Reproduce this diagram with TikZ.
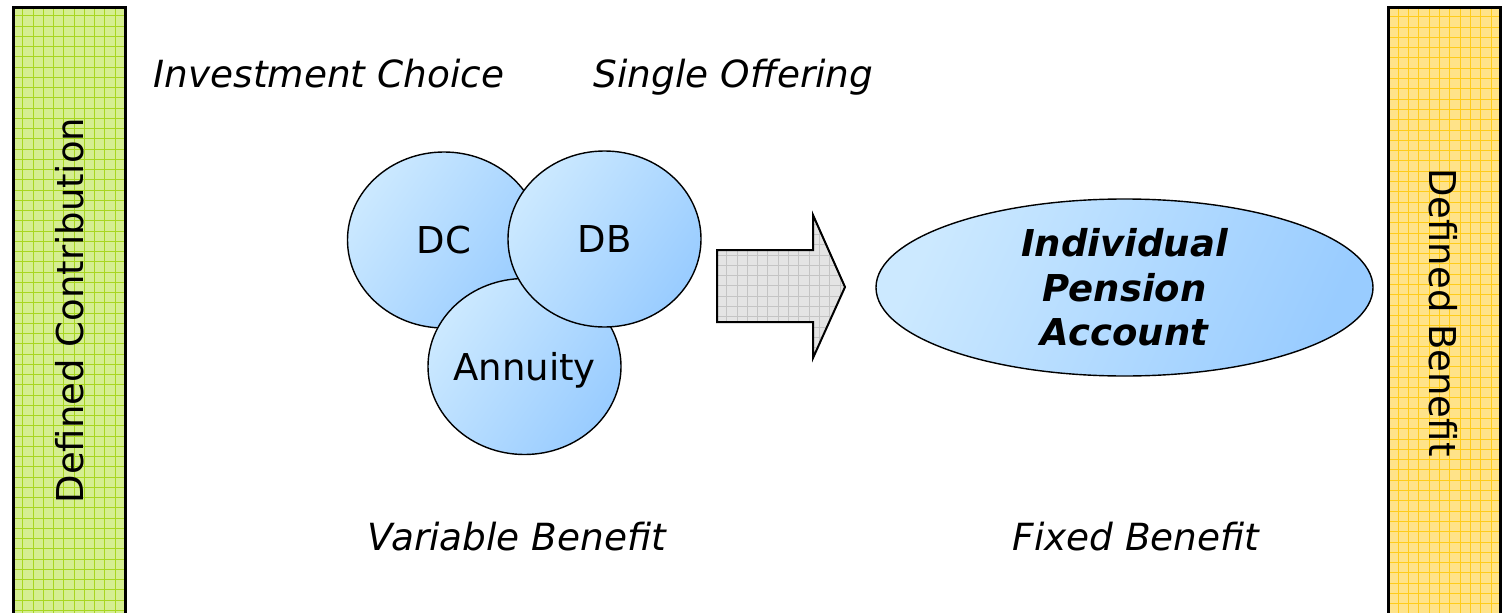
\documentclass[tikz,border=0pt]{standalone}
\usepackage{fontspec}
\setmainfont{DejaVu Sans}
\usetikzlibrary{shapes.geometric}
\definecolor{gfill}{HTML}{D5EE91}
\definecolor{gline}{HTML}{A8D620}
\definecolor{yfill}{HTML}{FFE389}
\definecolor{yline}{HTML}{FFCC1A}
\definecolor{afill}{HTML}{E4E4E4}
\definecolor{aline}{HTML}{C4C4C4}
\definecolor{bl}{HTML}{CCE9FF}
\definecolor{bd}{HTML}{99CCFF}
\begin{document}
\begin{tikzpicture}[x=1pt,y=-1pt,
  bubble/.style={ellipse, draw=black, line width=1.4pt, top color=bl, bottom color=bd, shading angle=55,
    inner sep=0pt, minimum width=193pt, minimum height=176pt, font=\fontsize{37}{44}\selectfont,
    text height=27pt, text depth=0pt},
  lbl/.style={font=\fontsize{37.4}{44}\selectfont\itshape, anchor=base, inner sep=0pt},
  vlbl/.style={font=\fontsize{37}{44}\selectfont, inner sep=0pt},
  gridline/.style={line width=0.9pt}]
\useasboundingbox (0,0) rectangle (1505,613);
% left bar
\fill[gfill] (13,7) rectangle (125,613);
\begin{scope}
\clip (13,7) rectangle (125,613);
\foreach \x in {12.45,22.7,...,126} \draw[gline,gridline] (\x,0) -- (\x,620);
\foreach \y in {5.45,15.7,...,620} \draw[gline,gridline] (0,\y) -- (140,\y);
\end{scope}
\draw[line width=3pt] (13,614) -- (13,7) -- (125,7) -- (125,614);
% right bar
\fill[yfill] (1388,7) rectangle (1500,613);
\begin{scope}
\clip (1388,7) rectangle (1500,613);
\foreach \x in {1388,1398.3,...,1502} \draw[yline,gridline] (\x,0) -- (\x,620);
\foreach \y in {6.4,16.7,...,620} \draw[yline,gridline] (1380,\y) -- (1505,\y);
\end{scope}
\draw[line width=3pt] (1388,614) -- (1388,7) -- (1500,7) -- (1500,614);
% block arrow
\fill[afill] (717,250) -- (813,250) -- (813,215) -- (845,287) -- (813,358) -- (813,322) -- (717,322) -- cycle;
\begin{scope}
\clip (717,250) -- (813,250) -- (813,215) -- (845,287) -- (813,358) -- (813,322) -- (717,322) -- cycle;
\foreach \x in {716.4,726.7,...,850} \draw[aline,gridline] (\x,200) -- (\x,370);
\foreach \y in {255,265.3,...,370} \draw[aline,gridline] (700,\y) -- (860,\y);
\foreach \y in {244.7,234.4,224.1,213.8} \draw[aline,gridline] (700,\y) -- (860,\y);
\end{scope}
\draw[line width=2pt, line join=miter] (717,250) -- (813,250) -- (813,215) -- (845,287) -- (813,358) -- (813,322) -- (717,322) -- cycle;
% bubbles
\node[bubble] (dc) at (444,240) {\makebox[0pt]{DC}};
\node[bubble] (ann) at (524.5,366.5) {\makebox[0pt]{Annuity}};
\node[bubble] (db) at (604.5,239) {\makebox[0pt]{DB}};
\node[bubble, minimum width=497pt, minimum height=177pt, shading angle=65, align=center,
  text height=, text depth=,
  font=\fontsize{37}{44.5}\selectfont\bfseries\itshape] (ipa) at (1124.5,287.5) {Individual\\Pension\\Account};
% labels
\node[lbl] (ic) at (329,87) {Investment Choice};
\node[lbl] (so) at (733.5,87) {Single Offering};
\node[lbl] (vb) at (517,550.5) {Variable Benefit};
\node[lbl] (fb) at (1136,550.5) {Fixed Benefit};
\node[vlbl, rotate=90] (dcl) at (70,310.5) {Defined Contribution};
\node[vlbl, rotate=-90] (dbl) at (1443,312.5) {Defined Benefit};
\end{tikzpicture}
\end{document}
